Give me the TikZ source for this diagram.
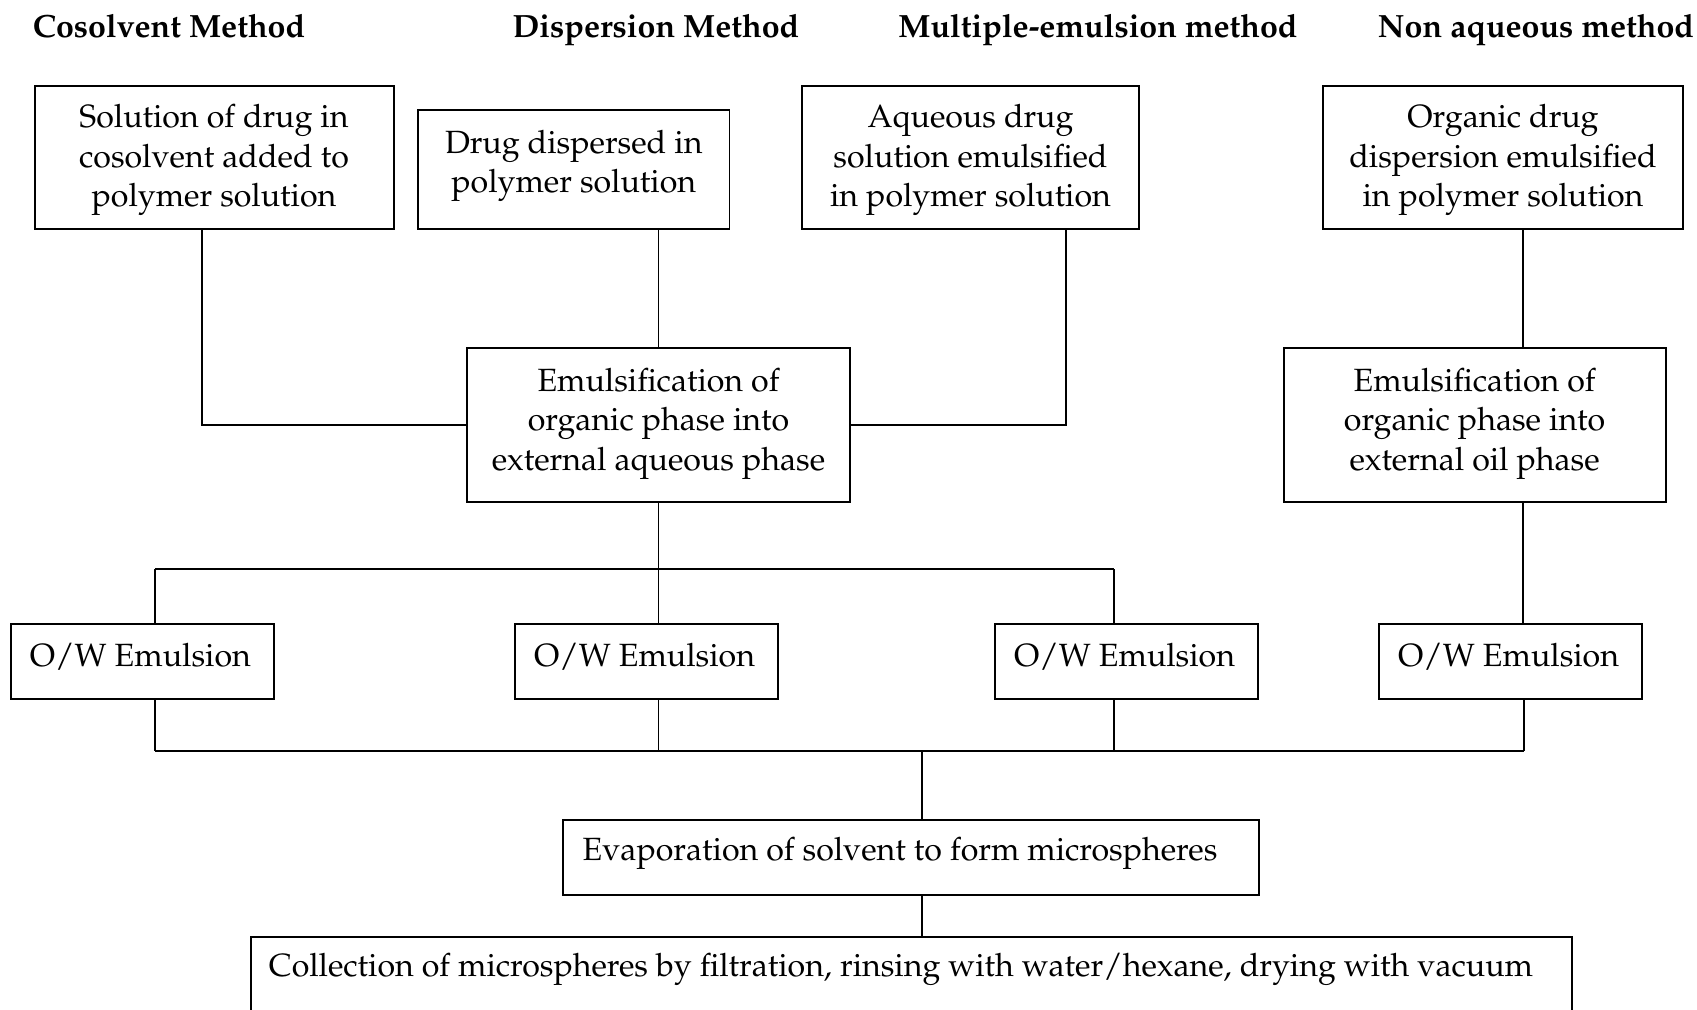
\documentclass[tikz,border=0pt]{standalone}
\usepackage[T1]{fontenc}
\usepackage{mathpazo}
\usetikzlibrary{calc}
\begin{document}
\begin{tikzpicture}[x=0.02cm,y=-0.02cm,
  frame/.style={draw, rectangle, line width=1.1pt, inner sep=0pt},
  lbl/.style={font=\fontsize{18.3}{22.5}\selectfont, align=center, inner sep=0pt},
  ttl/.style={font=\fontsize{18.3}{22}\selectfont\bfseries, inner sep=0pt, anchor=base},
  link/.style={line width=0.85pt}]
\useasboundingbox (0,0) rectangle (1697,1009);
\clip (0,0) rectangle (1697,1009);

% column headings
\node[ttl] (h1) at (169,37) {Cosolvent Method};
\node[ttl] (h2) at (656,37) {Dispersion Method};
\node[ttl] (h3) at (1098,37) {Multiple-emulsion method};
\node[ttl] (h4) at (1536,37) {Non aqueous method};

% starting materials
\node[frame, minimum width=7.18cm, minimum height=2.86cm] (s1) at (214.5,157.5) {};
\node[lbl] (s1t) at (214,160) {Solution of drug in\\cosolvent added to\\polymer solution};
\node[frame, minimum width=6.23cm, minimum height=2.38cm] (s2) at (573.75,169.5) {};
\node[lbl] (s2t) at (573.75,166) {Drug dispersed in\\polymer solution};
\node[frame, minimum width=6.74cm, minimum height=2.86cm] (s3) at (970.5,157.5) {};
\node[lbl] (s3t) at (970.5,160) {Aqueous drug\\solution emulsified\\in polymer solution};
\node[frame, minimum width=7.2cm, minimum height=2.86cm] (s4) at (1503,157.5) {};
\node[lbl] (s4t) at (1503,160) {Organic drug\\dispersion emulsified\\in polymer solution};

% emulsification steps
\node[frame, minimum width=7.66cm, minimum height=3.08cm] (emA) at (658.5,425) {};
\node[lbl] (emAt) at (658.5,423.5) {Emulsification of\\organic phase into\\external aqueous phase};
\node[frame, minimum width=7.64cm, minimum height=3.08cm] (emB) at (1474.6,425) {};
\node[lbl] (emBt) at (1474.6,423.5) {Emulsification of\\organic phase into\\external oil phase};

% emulsions
\foreach \n/\cx in {1/142.3, 2/646.5, 3/1126.5, 4/1510.5}{
  \node[frame, minimum width=5.26cm, minimum height=1.5cm] (ow\n) at (\cx,661.5) {};
  \node[lbl] (ow\n t) at (\cx-2,656.5) {O/W Emulsion};
}

% final steps
\node[frame, minimum width=13.92cm, minimum height=1.5cm] (evap) at (911,857.5) {};
\node[lbl] (evapt) at (900,853) {Evaporation of solvent to form microspheres};
\node[frame, minimum width=26.42cm, minimum height=2.06cm] (coll) at (911.5,988.5) {};
\node[lbl] (collt) at (901,969) {Collection of microspheres by filtration, rinsing with water/hexane, drying with vacuum};

% junction points
\coordinate (j1) at (202,424);
\coordinate (j3) at (1066,424);
\coordinate (j4) at (1523,0);
\coordinate (sL) at (155,569);
\coordinate (sR) at (1114,569);
\coordinate (mL) at (155,751);
\coordinate (mR) at (1524,751);
\coordinate (mE) at (922,751);

% connectors into the emulsification steps
\draw[link] (s1.south -| j1) |- (emA.west);
\draw[link] (emA.north |- s2.south) -- (emA.north);
\draw[link] (s3.south -| j3) |- (emA.east);
\draw[link] (s4.south -| j4) -- (emB.north -| j4);

% split into emulsions
\draw[link] (emA.south) -- (emA.south |- sL);
\draw[link] (sL) -- (sR);
\draw[link] (sL) -- (ow1.north -| sL);
\draw[link] (emA.south |- sL) -- (ow2.north -| emA.south);
\draw[link] (sR) -- (ow3.north -| sR);
\draw[link] (emB.south -| j4) -- (ow4.north -| j4);

% merge to evaporation
\draw[link] (ow1.south -| mL) -- (mL);
\draw[link] (ow2.south -| emA.south) -- (mL -| emA.south);
\draw[link] (ow3.south -| sR) -- (mL -| sR);
\draw[link] (ow4.south -| mR) -- (mR);
\draw[link] (mL) -- (mR);
\draw[link] (mE) -- (evap.north -| mE);
\draw[link] (evap.south -| mE) -- (coll.north -| mE);
\end{tikzpicture}
\end{document}
